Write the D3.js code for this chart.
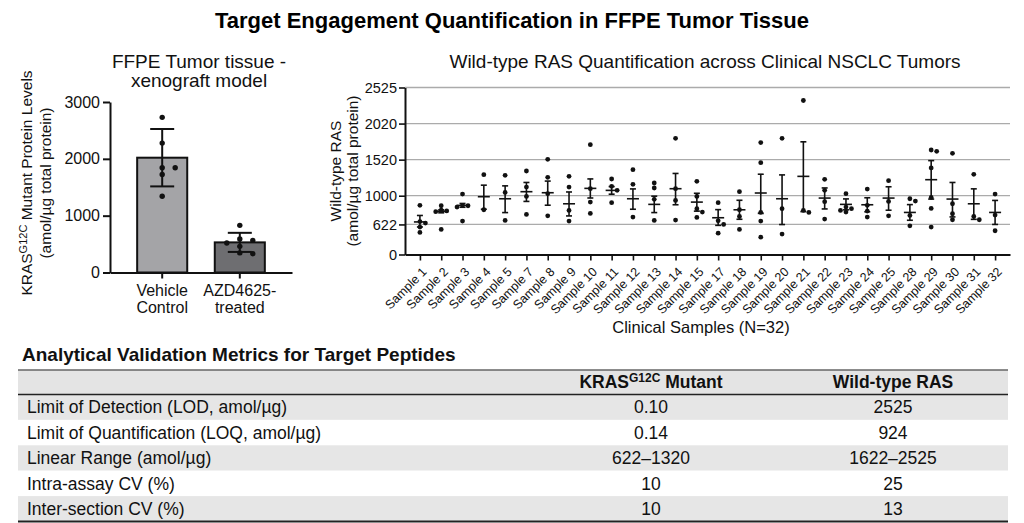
<!DOCTYPE html>
<html>
<head>
<meta charset="utf-8">
<script src="https://cdn.jsdelivr.net/npm/d3@7"></script>
<style>
body { margin: 0; background: #fff; }
svg { font-family: "Liberation Sans", Arial, sans-serif; }
</style>
</head>
<body>
<svg id="chart" width="1024" height="523"></svg>
<script>
// ---- left panel: KRAS G12C in xenograft
var groupLines = [["Vehicle", "Control"], ["AZD4625-", "treated"]]
var groupMeans = [2020, 530]
var groupSD = [505, 168]
var groupPoints = [
    [2730, 2277, 1842, 1842, 1724, 1341],
    [830, 590, 565, 520, 460, 330, 345]
]
var groupColors = ["#a4a4a7", "#6e6e71"]
var leftTicks = [0, 1000, 2000, 3000]

// ---- right panel: wild-type RAS per clinical sample
var samples = [1, 2, 3, 4, 5, 7, 8, 9, 10, 11, 12, 13, 14, 15, 17, 18, 19, 20, 21, 22, 23, 24, 25, 28, 29, 30, 31, 32]
var wtMeans = [655, 795, 873, 987, 960, 1058, 1043, 894, 1106, 1077, 960, 886, 1101, 916, 710, 815, 1039, 960, 1279, 969, 886, 881, 969, 780, 1231, 956, 894, 780]
var wtSEM = [85, 20, 25, 165, 182, 133, 168, 160, 136, 55, 138, 108, 220, 119, 107, 125, 271, 340, 488, 143, 72, 92, 160, 103, 275, 235, 205, 158]
var wtPoints = [
    [873, 660, 640, 567, 456],
    [868, 810, 800, 790, 518],
    [1024, 873, 868, 851, 666],
    [1303, 815],
    [1294, 1048, 675],
    [1356, 1125, 991, 754],
    [1525, 1265, 1029, 736],
    [1279, 1125, 807, 666],
    [1728, 1101, 916, 767],
    [1241, 1135, 1077, 908],
    [1376, 1164, 719],
    [1183, 1111, 952, 675],
    [1816, 1101, 938, 679],
    [1207, 991, 829, 785, 714],
    [908, 670, 622, 442],
    [1058, 815, 727, 518],
    [1756, 1477, 780, 666, 359],
    [1816, 829, 422],
    [2343, 807, 780],
    [1236, 1077, 921, 692],
    [1029, 851, 829, 807, 785],
    [1096, 873, 798, 719],
    [1217, 925, 736],
    [960, 929, 741, 594],
    [1654, 1636, 1400, 978, 833, 567],
    [1608, 894, 763, 684],
    [1308, 727, 684],
    [1024, 745, 491]
]
var wtTicks = [0, 622, 1000, 1520, 2020, 2525]
// the printed axis is not evenly spaced, so each tick gets its share of the height
var wtTickFrac = [0, 0.18, 0.352, 0.568, 0.784, 1]

// ---- table
var tableHeader = ["", "KRAS", "Wild-type RAS"]
var metricNames = [
    "Limit of Detection (LOD, amol/\u00b5g)",
    "Limit of Quantification (LOQ, amol/\u00b5g)",
    "Linear Range (amol/\u00b5g)",
    "Intra-assay CV (%)",
    "Inter-section CV (%)"
]
var krasValues = ["0.10", "0.14", "622\u20131320", "10", "10"]
var wtValues = ["2525", "924", "1622\u20132525", "25", "13"]


var svg = d3.select("#chart")

svg.append("text")
    .text("Target Engagement Quantification in FFPE Tumor Tissue")
    .attr("x", 512)
    .attr("y", 28)
    .attr("text-anchor", "middle")
    .attr("font-size", 22)
    .attr("font-weight", "bold")

// spread points that would sit on top of each other
var dodge = function(vals, y, minDist, gap)
{
    var placed = []
    var off = new Array(vals.length)
    var order = d3.range(vals.length).sort(function(a, b) { return vals[b] - vals[a] })
    order.forEach(function(i)
    {
        var py = y(vals[i])
        var k = 0, dx = 0
        while (true)
        {
            dx = k == 0 ? 0 : (k % 2 ? 1 : -1) * Math.ceil(k / 2) * gap
            var clash = placed.some(function(p) { return Math.hypot(p.x - dx, p.y - py) < minDist })
            if (!clash || k > 8) break
            k++
        }
        placed.push({x: dx, y: py})
        off[i] = dx
    })
    return off
}

var drawLeft = function()
{
    var graph = {x: 110, y: 102, width: 182, height: 170.5}

    var g = svg.append("g")
        .attr("transform", "translate(" + graph.x + "," + graph.y + ")")

    var xScale = d3.scaleBand()
        .domain(d3.range(groupMeans.length))
        .range([0, graph.width])
        .paddingInner(0.355)
        .paddingOuter(0.35)

    var yScale = d3.scaleLinear()
        .domain([0, 3000])
        .range([graph.height, 0])

    g.selectAll(".bar")
        .data(groupMeans)
        .enter()
        .append("rect")
        .attr("x", function(d, i) { return xScale(i) })
        .attr("y", function(d) { return yScale(d) })
        .attr("width", xScale.bandwidth())
        .attr("height", function(d) { return graph.height - yScale(d) })
        .attr("fill", function(d, i) { return groupColors[i] })
        .attr("stroke", "#111")
        .attr("stroke-width", 2)

    groupPoints.forEach(function(pts, i)
    {
        var cx = xScale(i) + xScale.bandwidth() / 2
        var off = dodge(pts, yScale, 5.2, 13)
        g.append("g").selectAll("circle")
            .data(pts)
            .enter()
            .append("circle")
            .attr("cx", function(d, j) { return cx + off[j] })
            .attr("cy", function(d) { return yScale(d) })
            .attr("r", 2.7)
            .attr("fill", "#111")

        var lo = yScale(groupMeans[i] - groupSD[i])
        var hi = yScale(groupMeans[i] + groupSD[i])
        var eb = g.append("g").attr("stroke", "#111").attr("stroke-width", 2)
        eb.append("line").attr("x1", cx).attr("x2", cx).attr("y1", lo).attr("y2", hi)
        eb.append("line").attr("x1", cx - 12).attr("x2", cx + 12).attr("y1", lo).attr("y2", lo)
        eb.append("line").attr("x1", cx - 12).attr("x2", cx + 12).attr("y1", hi).attr("y2", hi)
    })

    var yAxis = g.append("g")
        .call(d3.axisLeft(yScale).tickValues(leftTicks).tickFormat(d3.format("d"))
            .tickSize(7).tickPadding(3).tickSizeOuter(0))
    var xAxis = g.append("g")
        .attr("transform", "translate(0," + graph.height + ")")
        .call(d3.axisBottom(xScale).tickSize(6).tickSizeOuter(0).tickFormat(""))

    ;[yAxis, xAxis].forEach(function(a)
    {
        a.select(".domain").attr("stroke", "#111").attr("stroke-width", 2)
        a.selectAll(".tick line").attr("stroke", "#111").attr("stroke-width", 2)
        a.selectAll("text").attr("font-size", 16).attr("fill", "#111").attr("font-family", null)
    })

    groupLines.forEach(function(lines, i)
    {
        var t = g.append("text")
            .attr("text-anchor", "middle")
            .attr("font-size", 16)
            .attr("fill", "#111")
        lines.forEach(function(s, j)
        {
            t.append("tspan")
                .attr("x", xScale(i) + xScale.bandwidth() / 2)
                .attr("y", graph.height + 23 + j * 17.5)
                .text(s)
        })
    })

    var title = svg.append("text")
        .attr("text-anchor", "middle")
        .attr("font-size", 19)
        .attr("fill", "#111")
    title.append("tspan").attr("x", 199).attr("y", 68).text("FFPE Tumor tissue -")
    title.append("tspan").attr("x", 199).attr("y", 87).text("xenograft model")

    var lab1 = svg.append("text")
        .attr("transform", "translate(32,183) rotate(-90)")
        .attr("text-anchor", "middle")
        .attr("font-size", 15.5)
        .attr("fill", "#111")
    lab1.append("tspan").text("KRAS")
    lab1.append("tspan").attr("font-size", 11).attr("dy", -5).text("G12C")
    lab1.append("tspan").attr("dy", 5).text(" Mutant Protein Levels")

    svg.append("text")
        .attr("transform", "translate(51,183) rotate(-90)")
        .attr("text-anchor", "middle")
        .attr("font-size", 15.5)
        .attr("fill", "#111")
        .text("(amol/\u00b5g total protein)")
}

var drawRight = function()
{
    var graph = {x: 405, y: 87.5, width: 605, height: 167}

    var g = svg.append("g")
        .attr("transform", "translate(" + graph.x + "," + graph.y + ")")

    var xScale = d3.scalePoint()
        .domain(samples)
        .range([0, graph.width])
        .padding(0.7)

    var yScale = d3.scaleLinear()
        .domain(wtTicks)
        .range(wtTickFrac.map(function(f) { return graph.height * (1 - f) }))

    g.append("g").selectAll("line")
        .data(wtTicks.slice(1))
        .enter()
        .append("line")
        .attr("x1", 0)
        .attr("x2", graph.width)
        .attr("y1", function(d) { return yScale(d) })
        .attr("y2", function(d) { return yScale(d) })
        .attr("stroke", "#ababab")
        .attr("stroke-width", 1.3)

    wtPoints.forEach(function(pts, i)
    {
        var cx = xScale(samples[i])
        var off = dodge(pts, yScale, 4.4, 5.5)
        g.append("g").selectAll("circle")
            .data(pts)
            .enter()
            .append("circle")
            .attr("cx", function(d, j) { return cx + off[j] })
            .attr("cy", function(d) { return yScale(d) })
            .attr("r", 2.4)
            .attr("fill", "#111")
    })

    var eb = g.append("g").selectAll("g")
        .data(wtMeans)
        .enter()
        .append("g")
        .attr("stroke", "#111")
        .attr("stroke-width", 1.6)
        .attr("transform", function(d, i) { return "translate(" + xScale(samples[i]) + ",0)" })

    eb.append("line")
        .attr("y1", function(d, i) { return yScale(d - wtSEM[i]) })
        .attr("y2", function(d, i) { return yScale(d + wtSEM[i]) })
    eb.append("line")
        .attr("x1", -6).attr("x2", 6)
        .attr("y1", function(d) { return yScale(d) })
        .attr("y2", function(d) { return yScale(d) })
    eb.append("line")
        .attr("x1", -3).attr("x2", 3)
        .attr("y1", function(d, i) { return yScale(d + wtSEM[i]) })
        .attr("y2", function(d, i) { return yScale(d + wtSEM[i]) })
    eb.append("line")
        .attr("x1", -3).attr("x2", 3)
        .attr("y1", function(d, i) { return yScale(d - wtSEM[i]) })
        .attr("y2", function(d, i) { return yScale(d - wtSEM[i]) })

    var yAxis = g.append("g")
        .call(d3.axisLeft(yScale).tickValues(wtTicks).tickFormat(d3.format("d"))
            .tickSize(6).tickPadding(2).tickSizeOuter(0))
    var xAxis = g.append("g")
        .attr("transform", "translate(0," + graph.height + ")")
        .call(d3.axisBottom(xScale).tickSize(6).tickSizeOuter(0)
            .tickFormat(function(d) { return "Sample " + d }))

    ;[yAxis, xAxis].forEach(function(a)
    {
        a.select(".domain").attr("stroke", "#111").attr("stroke-width", 2)
        a.selectAll(".tick line").attr("stroke", "#111").attr("stroke-width", 1.6)
        a.selectAll("text").attr("fill", "#111").attr("font-family", null)
    })
    yAxis.selectAll("text").attr("font-size", 14.5)
    xAxis.selectAll("text")
        .attr("font-size", 12.5)
        .attr("x", 0)
        .attr("y", 0)
        .attr("dy", "0.35em")
        .attr("text-anchor", "end")
        .attr("transform", "translate(4,15) rotate(-45)")

    svg.append("text")
        .text("Wild-type RAS Quantification across Clinical NSCLC Tumors")
        .attr("x", 705)
        .attr("y", 68)
        .attr("text-anchor", "middle")
        .attr("font-size", 19)
        .attr("fill", "#111")

    svg.append("text")
        .text("Clinical Samples (N=32)")
        .attr("x", 701)
        .attr("y", 333)
        .attr("text-anchor", "middle")
        .attr("font-size", 16.5)
        .attr("fill", "#111")

    svg.append("text")
        .attr("transform", "translate(341,171) rotate(-90)")
        .attr("text-anchor", "middle")
        .attr("font-size", 15.5)
        .attr("fill", "#111")
        .text("Wild-type RAS")
    svg.append("text")
        .attr("transform", "translate(358,171) rotate(-90)")
        .attr("text-anchor", "middle")
        .attr("font-size", 15.5)
        .attr("fill", "#111")
        .text("(amol/\u00b5g total protein)")
}

var drawTable = function()
{
    var box = {left: 18, right: 1008, top: 370, head: 394.5, bottom: 521.5}
    var cols = [27, 651, 893]

    svg.append("text")
        .text("Analytical Validation Metrics for Target Peptides")
        .attr("x", 22)
        .attr("y", 361)
        .attr("font-size", 19)
        .attr("font-weight", "bold")
        .attr("fill", "#111")

    var rowScale = d3.scaleBand()
        .domain(d3.range(metricNames.length))
        .range([box.head, box.bottom])

    svg.append("rect")
        .attr("x", box.left).attr("y", box.top)
        .attr("width", box.right - box.left).attr("height", box.head - box.top)
        .attr("fill", "#e4e4e4")

    var rows = svg.append("g").selectAll("g")
        .data(metricNames)
        .enter()
        .append("g")
        .attr("transform", function(d, i) { return "translate(0," + rowScale(i) + ")" })

    rows.append("rect")
        .attr("x", box.left)
        .attr("width", box.right - box.left)
        .attr("height", rowScale.bandwidth())
        .attr("fill", function(d, i) { return i % 2 == 0 ? "#e6e6e6" : "#fff" })

    var cell = function(sel, x, anchor, fn)
    {
        sel.append("text")
            .attr("x", x)
            .attr("y", rowScale.bandwidth() / 2)
            .attr("dy", "0.35em")
            .attr("text-anchor", anchor)
            .attr("font-size", 17.5)
            .attr("fill", "#111")
            .text(fn)
    }
    cell(rows, cols[0], "start", function(d) { return d })
    cell(rows, cols[1], "middle", function(d, i) { return krasValues[i] })
    cell(rows, cols[2], "middle", function(d, i) { return wtValues[i] })

    var hy = (box.top + box.head) / 2
    var h1 = svg.append("text")
        .attr("x", cols[1]).attr("y", hy).attr("dy", "0.35em")
        .attr("text-anchor", "middle")
        .attr("font-size", 17.5)
        .attr("font-weight", "bold")
        .attr("fill", "#111")
    h1.append("tspan").text(tableHeader[1])
    h1.append("tspan").attr("font-size", 12).attr("dy", -6).text("G12C")
    h1.append("tspan").attr("dy", 6).text(" Mutant")

    svg.append("text")
        .attr("x", cols[2]).attr("y", hy).attr("dy", "0.35em")
        .attr("text-anchor", "middle")
        .attr("font-size", 17.5)
        .attr("font-weight", "bold")
        .attr("fill", "#111")
        .text(tableHeader[2])

    svg.append("line")
        .attr("x1", box.left).attr("x2", box.right)
        .attr("y1", box.top).attr("y2", box.top)
        .attr("stroke", "#666").attr("stroke-width", 1.5)
    svg.append("line")
        .attr("x1", box.left).attr("x2", box.right)
        .attr("y1", box.head).attr("y2", box.head)
        .attr("stroke", "#222").attr("stroke-width", 1.5)
    svg.append("line")
        .attr("x1", box.left).attr("x2", box.right)
        .attr("y1", box.bottom).attr("y2", box.bottom)
        .attr("stroke", "#222").attr("stroke-width", 2)
}

drawLeft()
drawRight()
drawTable()
</script>
</body>
</html>
